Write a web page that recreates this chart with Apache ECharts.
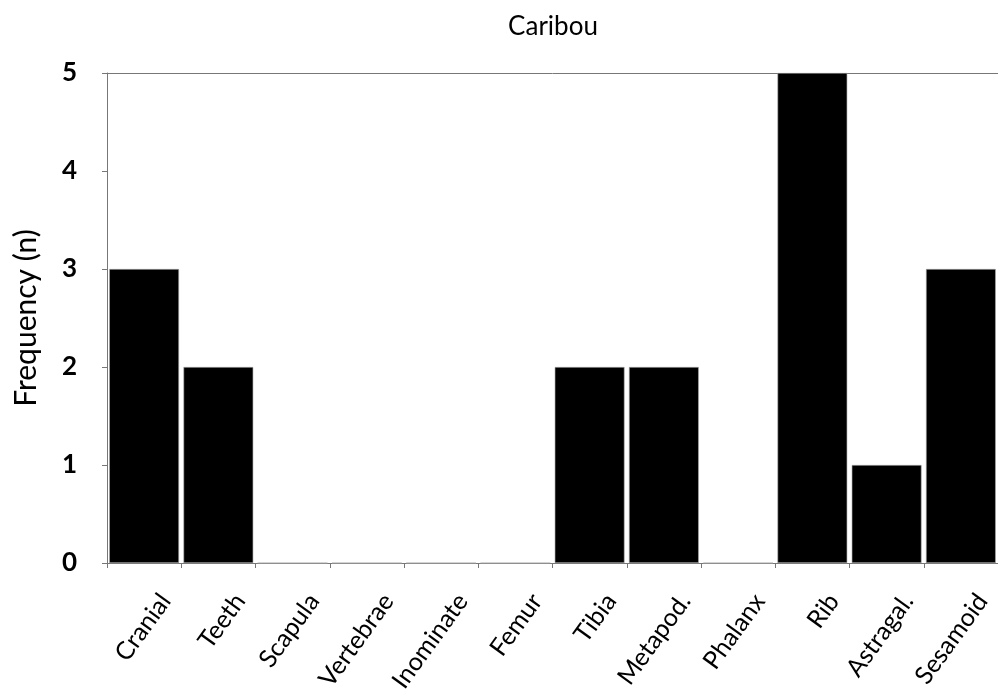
<!DOCTYPE html>
<html>
<head>
<meta charset="utf-8">
<script src="https://cdn.jsdelivr.net/npm/echarts@6/dist/echarts.min.js"></script>
<style>html,body{margin:0;padding:0;background:#fff;overflow:hidden}#c{width:998px;height:690px}</style>
</head>
<body>
<div id="c"></div>
<script>
const categories = ['Cranial','Teeth','Scapula','Vertebrae','Inominate','Femur','Tibia','Metapod.','Phalanx','Rib','Astragal.','Sesamoid'];
const frequency = [3,2,0,0,0,0,2,2,0,5,1,3];
const yTicks = [0,1,2,3,4,5];
const titleText = 'Caribou';
const yName = 'Frequency (n)';

const FONT = 'Lato, "Open Sans", sans-serif';
const chart = echarts.init(document.getElementById('c'), null, {width: 998, height: 690});
chart.setOption({
  animation: false,
  title: {
    text: titleText, left: 548, top: 9, textAlign: 'center',
    textStyle: {fontFamily: FONT, fontSize: 26, fontWeight: 'normal', color: '#000'}
  },
  grid: {left: 107, right: 0, top: 73, bottom: 127, containLabel: false, outerBoundsMode: 'none'},
  xAxis: [{
    type: 'category', data: categories, boundaryGap: true,
    axisLine: {lineStyle: {color: '#777', width: 1}},
    axisTick: {show: true, alignWithLabel: false, length: 5, lineStyle: {color: '#777'}},
    axisLabel: {
      interval: 0, rotate: 54, margin: 18, color: '#000',
      fontFamily: FONT, fontSize: 25, verticalAlign: 'top', align: 'right',
      padding: [14, 0, 0, 0]
    }
  }, {
    type: 'category', data: categories, position: 'top',
    axisLine: {show: true, lineStyle: {color: '#777', width: 1}},
    axisTick: {show: false}, axisLabel: {show: false}
  }],
  yAxis: {
    type: 'value', min: yTicks[0], max: yTicks[yTicks.length-1], interval: 1,
    name: yName, nameLocation: 'middle', nameGap: 66, nameRotate: 90,
    nameTextStyle: {fontFamily: FONT, fontSize: 30, color: '#000'},
    axisLine: {show: true, lineStyle: {color: '#777', width: 1}},
    axisTick: {show: true, length: 5, lineStyle: {color: '#777'}},
    splitLine: {show: false},
    axisLabel: {margin: 30, color: '#000', fontFamily: FONT, fontSize: 26, fontWeight: 'bold'}
  },
  series: [{
    type: 'bar', data: frequency, barCategoryGap: '6%',
    itemStyle: {color: '#000', borderColor: '#aaa', borderWidth: 0.6}
  }]
});
</script>
</body>
</html>
